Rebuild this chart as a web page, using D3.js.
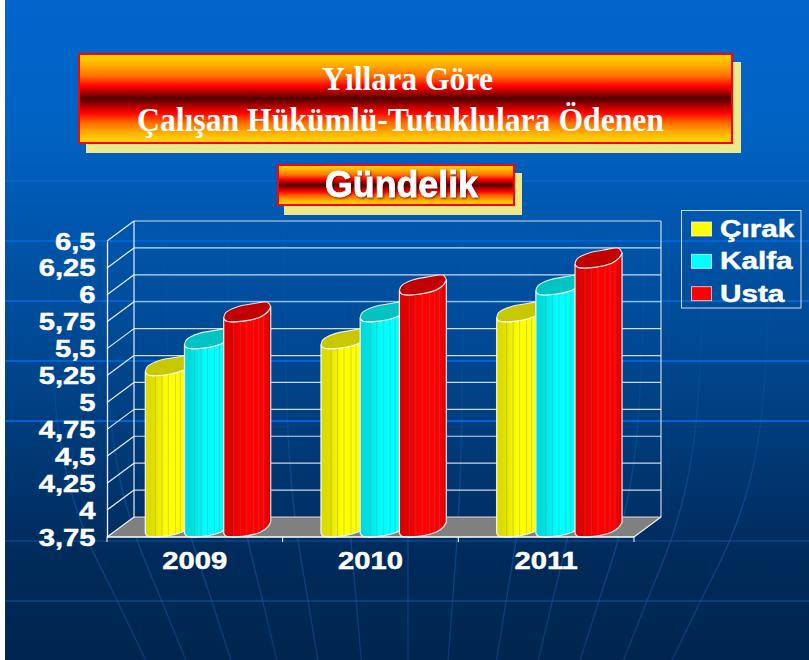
<!DOCTYPE html>
<html><head><meta charset="utf-8">
<style>
html,body{margin:0;padding:0;background:#fff}
svg{display:block}
text{font-family:"Liberation Sans",Arial,sans-serif;font-weight:bold;fill:#fff}
.thick{stroke:#fff;stroke-width:0.45px}
</style>
<script src="https://d3js.org/d3.v7.min.js"></script>
</head><body><div id="c"></div>
<script>
const years = ["2009","2010","2011"];
const seriesNames = ["Çırak","Kalfa","Usta"];
const cirak = [5.25,5.5,5.75];
const kalfa = [5.5,5.75,6];
const usta  = [5.75,6,6.25];
const yTicks = [3.75,4,4.25,4.5,4.75,5,5.25,5.5,5.75,6,6.25,6.5];
const titleLines = ["Yıllara Göre","Çalışan Hükümlü-Tutuklulara Ödenen"];
const subtitle = "Gündelik";
const bgBands = [181,241,301,361,421,541,601];
const fanX = [88,137,192,248,298,351,408,457,516,567,618,671,730];
const fanBend = [[200,1.13],[340,1.115],[423,1.095],[483,1.06],[540,1],[600,0.91],[660,0.82]];
const palette = {
  "Çırak":{dark:"#dcdc00",mid:"#ffff00",top:"#c8c800"},
  "Kalfa":{dark:"#00dcdc",mid:"#00ffff",top:"#00c4c4"},
  "Usta":{dark:"#dc0000",mid:"#ff0000",top:"#c00000"}
};
const values = {"Çırak":cirak,"Kalfa":kalfa,"Usta":usta};

const W=809,H=660;
const svg=d3.select("#c").append("svg").attr("width",W).attr("height",H);
const defs=svg.append("defs");
function grad(id,stops,attrs){
  const g=defs.append("linearGradient").attr("id",id);
  Object.entries(attrs).forEach(([k,v])=>g.attr(k,v));
  stops.forEach(s=>g.append("stop").attr("offset",s[0]).attr("stop-color",s[1]).attr("stop-opacity",s[2]===undefined?1:s[2]));
}
grad("bg",[[0,"#0066cc"],[0.2,"#0062c3"],[0.37,"#0054a8"],[0.55,"#00468e"],[0.72,"#003670"],[0.85,"#002a5a"],[1,"#00264f"]],{x1:0,x2:0,y1:0,y2:1});
const banner=[[0,"#ffd800"],[0.12,"#ffb000"],[0.25,"#ff7000"],[0.36,"#ff0000"],[0.44,"#a00000"],[0.5,"#500000"],[0.57,"#a00000"],[0.66,"#ff0000"],[0.78,"#ff7000"],[0.9,"#ffb800"],[1,"#ffe000"]];
grad("banner",banner,{x1:0,x2:0,y1:0,y2:1});
grad("fan",[[0,"#1a70c8",0.03],[0.35,"#1a70c8",0.12],[0.7,"#1a68c0",0.45],[1,"#1a58a8",0.4]],{gradientUnits:"userSpaceOnUse",x1:0,x2:0,y1:200,y2:660});
seriesNames.forEach((s,i)=>{
  const p=palette[s];
  grad("bar"+i,[[0,p.dark],[0.12,p.dark],[0.45,p.mid],[0.8,p.mid],[1,p.dark]],{x1:0,x2:1,y1:0,y2:0});
});

// background
svg.append("rect").attr("x",5).attr("width",W-5).attr("height",H).attr("fill","url(#bg)");
const bgG=svg.append("g");
bgG.selectAll("line").data(bgBands).join("line")
  .attr("x1",5).attr("x2",W).attr("y1",d=>d).attr("y2",d=>d)
  .attr("stroke",d=>d<200?"#0a6cd0":d<430?"#0064d0":"#0a4486")
  .attr("stroke-width",d=>d<200?1:d<430?1.8:1.5);
const fanLine=d3.line().curve(d3.curveCatmullRom).x(d=>d[0]).y(d=>d[1]);
bgG.selectAll("path").data(fanX).join("path")
  .attr("d",x=>fanLine(fanBend.map(b=>[408+(x-408)*b[1],b[0]])))
  .attr("fill","none").attr("stroke","url(#fan)").attr("stroke-width",1.3);
svg.append("rect").attr("width",5).attr("height",H).attr("fill","#fff");

// banners
function bannerBox(x,y,w,h,sx,sy){
  svg.append("rect").attr("x",x+sx).attr("y",y+sy).attr("width",w).attr("height",h).attr("fill","#f0e98a");
  svg.append("rect").attr("x",x+1).attr("y",y+1).attr("width",w-2).attr("height",h-2)
    .attr("fill","url(#banner)").attr("stroke","#ff0000").attr("stroke-width",2);
}
bannerBox(78,53,655,91,8,9);
bannerBox(277,164,238,42,7,9);
svg.selectAll("text.title").data(titleLines).join("text").attr("class","title")
  .attr("x",(d,i)=>[322,137][i]).attr("y",(d,i)=>[90,131][i])
  .attr("textLength",(d,i)=>[171,527][i]).attr("lengthAdjust","spacingAndGlyphs")
  .style("font-family","'Liberation Serif',serif").style("font-size","34px").text(d=>d);
svg.append("text").attr("class","thick").attr("x",325).attr("y",197).attr("textLength",153).attr("lengthAdjust","spacingAndGlyphs")
  .style("font-size","36px").style("stroke-width","0.8px")
  .style("filter","drop-shadow(1px 1px 1px rgba(60,0,0,.7))").text(subtitle);

// chart frame
const frontL=107,frontR=634,frontB=537,frontT=241,dx=27,dy=-20;
const y=d3.scaleLinear().domain([3.75,6.5]).range([frontB,frontT]);
const x=d3.scaleBand().domain(years).range([frontL,frontR]);
const inner=d3.scaleBand().domain(seriesNames).range([38.3,38.3+3*39.2]);
const lineCol="#ffffff";

svg.append("path").attr("fill","#808080")
  .attr("d",`M${frontL},${frontB}L${frontL+dx},${frontB+dy}L${frontR+dx},${frontB+dy}L${frontR},${frontB}Z`);

const grid=svg.append("g").attr("stroke",lineCol).attr("fill","none").attr("stroke-width",1.2);
grid.selectAll("line.h").data(yTicks).join("line").attr("class","h")
  .attr("x1",frontL+dx).attr("x2",frontR+dx).attr("y1",d=>y(d)+dy).attr("y2",d=>y(d)+dy)
  .attr("stroke-opacity",0.8);
grid.selectAll("line.d").data(yTicks).join("line").attr("class","d")
  .attr("x1",frontL).attr("x2",frontL+dx).attr("y1",d=>y(d)).attr("y2",d=>y(d)+dy).attr("stroke-opacity",0.9);
grid.append("line").attr("x1",frontL+dx).attr("x2",frontL+dx).attr("y1",y(6.5)+dy).attr("y2",y(3.75)+dy).attr("stroke-opacity",0.9);
grid.append("line").attr("x1",frontR+dx).attr("x2",frontR+dx).attr("y1",y(6.5)+dy).attr("y2",y(3.75)+dy).attr("stroke-opacity",0.8);
grid.append("line").attr("x1",frontR).attr("x2",frontR+dx).attr("y1",frontB).attr("y2",frontB+dy).attr("stroke-opacity",0.9);

// bars
const lower=[[0,-4],[1.5,-1.5],[4,-0.3],[19,-0.6],[37,-5],[44,-10],[47,-15]];
const upper=[[0,-4],[2,-9],[14,-15],[29,-18],[44,-19.5],[47,-15]];
const facets=[10,16.5,23,30,35,40];
const lowerY=d3.scaleLinear().domain(lower.map(d=>d[0])).range(lower.map(d=>d[1]));
const curve=d3.line().curve(d3.curveCatmullRom).x(d=>d[0]).y(d=>d[1]);
const barG=svg.append("g");
years.forEach((yr,yi)=>{
  seriesNames.forEach((s,si)=>{
    const v=values[s][yi];
    const x0=x(yr)+inner(s);
    const top=y(v), base=y(3.75);
    const g=barG.append("g");
    const topEdge=lower.map(p=>[x0+p[0],top+p[1]]);
    const botEdge=lower.map(p=>[x0+p[0],base+p[1]]).reverse();
    const upEdge=upper.map(p=>[x0+p[0],top+p[1]]);
    g.append("path").attr("d",curve(topEdge)+curve(botEdge).replace("M","L")+"Z")
      .attr("fill",`url(#bar${si})`).attr("stroke","#fff").attr("stroke-opacity",0.85).attr("stroke-width",1.3);
    g.selectAll("line").data(facets).join("line")
      .attr("x1",f=>x0+f).attr("x2",f=>x0+f)
      .attr("y1",f=>top+lowerY(f)).attr("y2",f=>base+lowerY(f))
      .attr("stroke","#808080").attr("stroke-opacity",0.32).attr("stroke-width",1);
    g.append("path").attr("d",curve(upEdge)+curve(topEdge.slice().reverse()).replace("M","L")+"Z")
      .attr("fill",palette[s].top).attr("stroke","#fff").attr("stroke-opacity",0.85).attr("stroke-width",1.1);
  });
});

// axes
const fmt=d=>String(d).replace(".",",");
const yAxis=svg.append("g").attr("transform",`translate(${frontL},0)`)
  .call(d3.axisLeft(y).tickValues(yTicks).tickFormat(fmt).tickSize(0));
yAxis.select(".domain").attr("stroke","#fff").attr("stroke-width",1.3).attr("stroke-opacity",0.95);
yAxis.selectAll("text").attr("class","thick").attr("x",0).attr("dy",null).attr("y",8)
  .attr("transform","translate(-11.5,0) scale(1.27,1)").attr("text-anchor","end")
  .style("font-size","23px");

const xAxis=svg.append("g").attr("transform",`translate(0,${frontB})`)
  .call(d3.axisBottom(x).tickSize(0));
xAxis.select(".domain").remove();
xAxis.append("line").attr("x1",frontL).attr("x2",frontR).attr("stroke","#fff").attr("stroke-width",1.4);
xAxis.selectAll("line.t").data(d3.range(years.length+1)).join("line").attr("class","t")
  .attr("x1",i=>frontL+i*x.step()).attr("x2",i=>frontL+i*x.step()).attr("y1",0).attr("y2",5)
  .attr("stroke","#fff").attr("stroke-width",1);
xAxis.selectAll(".tick text").attr("class","thick").attr("y",0).attr("dy",null)
  .attr("transform",`translate(0,32) scale(1.27,1)`).attr("text-anchor","middle")
  .style("font-size","23px");

// legend
const leg=svg.append("g");
leg.append("rect").attr("x",681.5).attr("y",210.5).attr("width",119.5).attr("height",97.5)
  .attr("fill","none").attr("stroke","#fff").attr("stroke-opacity",0.8).attr("stroke-width",1);
const legY=d3.scaleBand().domain(seriesNames).range([212,309]);
const items=leg.selectAll("g").data(seriesNames).join("g").attr("transform",d=>`translate(0,${legY(d)})`);
items.append("rect").attr("x",691.5).attr("y",10).attr("width",20).attr("height",14)
  .attr("fill",d=>palette[d].mid).attr("stroke","#fff").attr("stroke-opacity",0.7).attr("stroke-width",1);
items.append("text").attr("class","thick").attr("transform","translate(720,25) scale(1.29,1)").style("font-size","23px").text(d=>d);
</script></body></html>
